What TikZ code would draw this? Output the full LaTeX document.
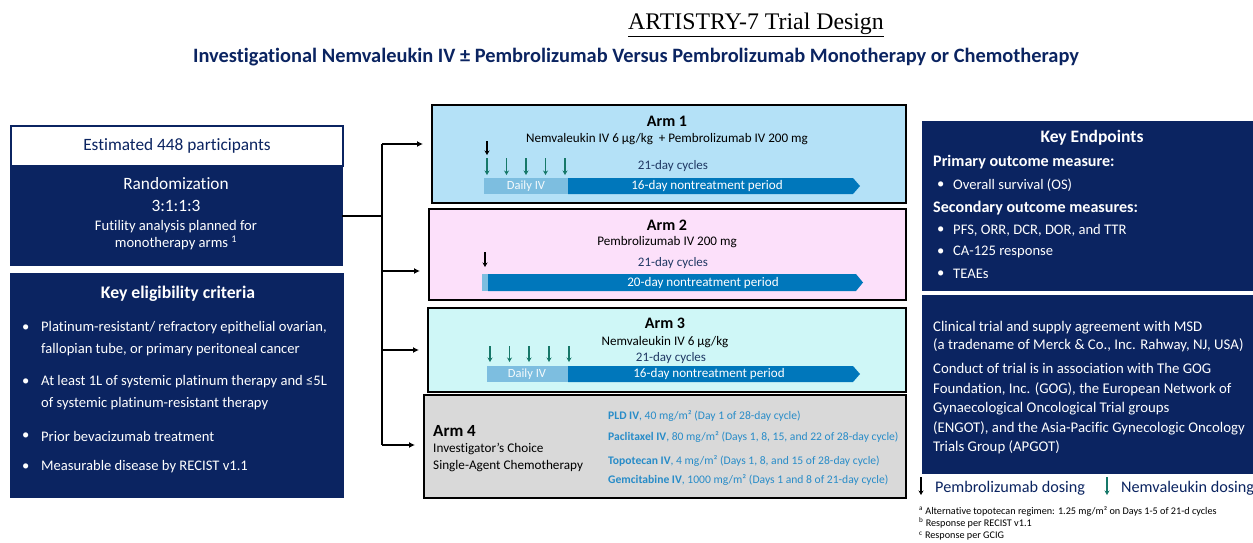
\documentclass[tikz,border=0pt]{standalone}
\usepackage{fontspec}
\setmainfont{Carlito}[Ligatures=NoCommon]
\newfontfamily\serifface{Liberation Serif}
\usetikzlibrary{arrows.meta}
\definecolor{navy}{RGB}{11,36,97}
\definecolor{armone}{RGB}{180,225,247}
\definecolor{armtwo}{RGB}{252,224,250}
\definecolor{armthree}{RGB}{207,247,247}
\definecolor{armfour}{RGB}{217,217,217}
\definecolor{bardark}{RGB}{0,119,187}
\definecolor{barlight}{RGB}{125,190,224}
\definecolor{tealdose}{RGB}{22,120,105}
\definecolor{cyclec}{RGB}{31,56,100}
\definecolor{chemo}{RGB}{40,140,200}
\newcommand{\fs}[2]{\fontsize{#1}{#2}\selectfont}
\begin{document}
\begin{tikzpicture}[x=1pt,y=-1pt,
  armbox/.style={draw=black,line width=2pt,anchor=north west,inner sep=0pt},
  navybox/.style={fill=navy,draw=navy,anchor=north west,inner sep=0pt},
  armtitle/.style={font=\fs{16}{18}\bfseries},
  armtext/.style={font=\fs{13.1}{15}},
  cyc/.style={font=\fs{13}{15},text=cyclec},
  bartext/.style={font=\fs{13.1}{15},text=white},
  pdose/.style={-{Stealth[length=4.5pt,width=5pt]},line width=1.3pt,black},
  ndose/.style={-{Stealth[length=4.5pt,width=5pt]},line width=1.3pt,tealdose},
  link/.style={line width=1.2pt,black},
  linkarrow/.style={link,-{Latex[length=6pt,width=6pt]},shorten >=8pt},
  wtext/.style={text=white,inner sep=0pt},
  elig/.style={wtext,font=\fs{14.6}{22},anchor=west,align=left},
  chemotext/.style={font=\fs{11.6}{13},text=chemo,anchor=west,inner sep=0pt},
  endp/.style={wtext,font=\fs{14.6}{16},anchor=west},
  endh/.style={wtext,font=\fs{16.1}{18}\bfseries,anchor=west},
  info/.style={wtext,font=\fs{14.8}{19.6},anchor=north west,align=left},
  foot/.style={font=\fs{10.2}{12},anchor=west,inner sep=0pt}
]
\useasboundingbox[fill=white] (0,0) rectangle (1253,542);

% titles
\node[font=\serifface\fs{23.8}{26}] (title) at (756,25) {\underline{ARTISTRY-7 Trial Design}};
\node[font=\fs{20.4}{22}\bfseries,text=navy] (subtitle) at (636,57) {Investigational Nemvaleukin IV ± Pembrolizumab Versus Pembrolizumab Monotherapy or Chemotherapy};

% left column
\node[draw=navy,line width=2pt,fill=white,anchor=north west,minimum width=332pt,minimum height=40pt,inner sep=0pt] (est) at (10,125) {};
\node[font=\fs{17.3}{19},text=navy] (estt) at (est.center) {Estimated 448 participants};
\node[navybox,minimum width=332pt,minimum height=100pt] (rand) at (10,165) {};
\node[wtext,font=\fs{17.3}{19}] (randa) at (176,184) {Randomization};
\node[wtext,font=\fs{17.3}{19}] (randb) at (176,206) {3:1:1:3};
\node[wtext,font=\fs{14.6}{17},align=center] (randc) at (176,235) {Futility analysis planned for\\monotherapy arms \textsuperscript{1}};

\node[navybox,minimum width=333pt,minimum height=224pt] (elig) at (10,273) {};
\node[wtext,font=\fs{17.7}{19}\bfseries] (eligt) at (178,294) {Key eligibility criteria};
\node[elig] (e1b) at (22,328) {•};
\node[elig] (e1) at (41,339) {Platinum-resistant/ refractory epithelial ovarian,\\fallopian tube, or primary peritoneal cancer};
\node[elig] (e2b) at (22,382) {•};
\node[elig] (e2) at (41,393) {At least 1L of systemic platinum therapy and ≤5L\\of systemic platinum-resistant therapy};
\node[elig] (e3b) at (22,436) {•};
\node[elig] (e3) at (41,436) {Prior bevacizumab treatment};
\node[elig] (e4b) at (22,467) {•};
\node[elig] (e4) at (41,467) {Measurable disease by RECIST v1.1};

% arm boxes
\node[armbox,fill=armone,minimum width=474pt,minimum height=98pt] (arm1) at (431,104) {};
\node[armbox,fill=armtwo,minimum width=477pt,minimum height=91pt] (arm2) at (428,208) {};
\node[armbox,fill=armthree,minimum width=478pt,minimum height=84pt] (arm3) at (427,307) {};
\node[armbox,fill=armfour,minimum width=482pt,minimum height=103pt] (arm4) at (423,394) {};

% connectors
\coordinate (jn) at (382,216);
\coordinate (t1) at (382,144);
\coordinate (t2) at (382,271);
\coordinate (t3) at (382,350);
\coordinate (t4) at (382,445);
\draw[link] (rand.east|-jn) -- (jn);
\draw[link] (t1) -- (t4);
\draw[linkarrow] (t1) -- (t1-|arm1.west);
\draw[linkarrow] (t2) -- (t2-|arm2.west);
\draw[linkarrow] (t3) -- (t3-|arm3.west);
\draw[linkarrow] (t4) -- (t4-|arm4.west);

% arm 1
\node[armtitle] (a1t) at (667,121) {Arm 1};
\node[armtext] (a1d) at (667,139) {Nemvaleukin IV 6 µg/kg\ \ + Pembrolizumab IV 200 mg};
\draw[pdose] (487,141) -- (487,155);
\foreach \x in {487,506.5,526,545.5,565} \draw[ndose] (\x,158) -- (\x,175);
\node[cyc] (a1c) at (673,166) {21-day cycles};
\fill[barlight] (484,178) rectangle (568,194);
\fill[bardark] (568,178) -- (853,178) -- (860,186) -- (853,194) -- (568,194) -- cycle;
\node[bartext,text=white!92!barlight,font=\fs{12.5}{14}] (a1di) at (526,186) {Daily IV};
\node[bartext] (a1n) at (707,186) {16-day nontreatment period};

% arm 2
\node[armtitle] (a2t) at (667,225) {Arm 2};
\node[armtext] (a2d) at (667,242) {Pembrolizumab IV 200 mg};
\draw[pdose] (485,252) -- (485,267);
\node[cyc] (a2c) at (673,263) {21-day cycles};
\fill[barlight] (482,274) rectangle (488,291);
\fill[bardark] (488,274) -- (856,274) -- (863,282.5) -- (856,291) -- (488,291) -- cycle;
\node[bartext] (a2n) at (703,282.5) {20-day nontreatment period};

% arm 3
\node[armtitle] (a3t) at (665,323) {Arm 3};
\node[armtext] (a3d) at (665,342) {Nemvaleukin IV 6 µg/kg};
\foreach \x in {490,509.5,529,549,569} \draw[ndose] (\x,346) -- (\x,362);
\node[cyc] (a3c) at (671,358) {21-day cycles};
\fill[barlight] (487,366) rectangle (568,382);
\fill[bardark] (568,366) -- (853,366) -- (860,374) -- (853,382) -- (568,382) -- cycle;
\node[bartext,text=white!92!barlight,font=\fs{12.5}{14}] (a3di) at (527,374) {Daily IV};
\node[bartext] (a3n) at (709,374) {16-day nontreatment period};

% arm 4
\node[font=\fs{17}{19}\bfseries,anchor=west,inner sep=0pt] (a4t) at (433,431) {Arm 4};
\node[font=\fs{13.2}{16.5},anchor=north west,align=left,inner sep=0pt] (a4d) at (433,443) {Investigator's Choice\\Single-Agent Chemotherapy};
\node[chemotext] (c1) at (608,416) {\textbf{PLD IV}, 40 mg/m² (Day 1 of 28-day cycle)};
\node[chemotext] (c2) at (608,437) {\textbf{Paclitaxel IV}, 80 mg/m² (Days 1, 8, 15, and 22 of 28-day cycle)};
\node[chemotext] (c3) at (608,461) {\textbf{Topotecan IV}, 4 mg/m² (Days 1, 8, and 15 of 28-day cycle)};
\node[chemotext] (c4) at (608,480) {\textbf{Gemcitabine IV}, 1000 mg/m² (Days 1 and 8 of 21-day cycle)};

% right column
\node[navybox,minimum width=331pt,minimum height=169pt] (kep) at (922,121) {};
\node[wtext,font=\fs{17.5}{19}\bfseries] (kept) at (1092,138) {Key Endpoints};
\node[endh] (k1) at (933,162) {Primary outcome measure:};
\node[endp] (k1b) at (937,185) {•};
\node[endp] (k1a) at (953,185) {Overall survival (OS)};
\node[endh] (k2) at (933,208) {Secondary outcome measures:};
\node[endp] (k2b1) at (937,230) {•};
\node[endp] (k2a) at (953,230) {PFS, ORR, DCR, DOR, and TTR};
\node[endp] (k2b2) at (937,252) {•};
\node[endp] (k2c) at (953,252) {CA-125 response};
\node[endp] (k2b3) at (937,274) {•};
\node[endp] (k2d) at (953,274) {TEAEs};

\node[navybox,minimum width=331pt,minimum height=178pt] (info) at (922,295) {};
\node[info,font=\fs{14.8}{18}] (infoa) at (933,321) {Clinical trial and supply agreement with MSD\\(a tradename of Merck \& Co., Inc. Rahway, NJ, USA)};
\node[info] (infob) at (933,363) {Conduct of trial is in association with The GOG\\Foundation, Inc. (GOG), the European Network of\\Gynaecological Oncological Trial groups\\(ENGOT), and the Asia-Pacific Gynecologic Oncology\\Trials Group (APGOT)};

% legend
\draw[pdose,line width=1.8pt] (921,477) -- (921,495);
\node[font=\fs{16.2}{18},text=navy,anchor=west,inner sep=0pt] (lp) at (935,488) {Pembrolizumab dosing};
\draw[ndose,line width=1.8pt] (1107,477) -- (1107,495);
\node[font=\fs{16.2}{18},text=navy,anchor=west,inner sep=0pt] (ln) at (1121,488) {Nemvaleukin dosing};

% footnotes
\node[foot] (f1) at (919,511) {\textsuperscript{a} Alternative topotecan regimen: 1.25 mg/m² on Days 1-5 of 21-d cycles};
\node[foot] (f2) at (919,523) {\textsuperscript{b} Response per RECIST v1.1};
\node[foot] (f3) at (919,536) {\textsuperscript{c} Response per GCIG};
\end{tikzpicture}
\end{document}
